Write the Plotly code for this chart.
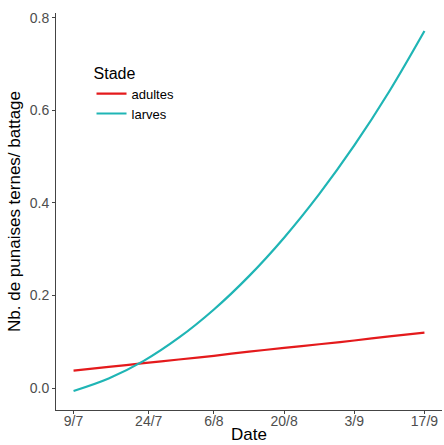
import plotly.graph_objects as go

dates = ["2021-07-09", "2021-07-16", "2021-07-23", "2021-07-30", "2021-08-06",
         "2021-08-13", "2021-08-20", "2021-08-27", "2021-09-03", "2021-09-10",
         "2021-09-17"]
adultes = [0.038, 0.046, 0.054, 0.062, 0.070, 0.079, 0.087, 0.095, 0.103, 0.112, 0.120]
larves = [-0.006, 0.021, 0.059, 0.109, 0.170, 0.242, 0.325, 0.419, 0.524, 0.641, 0.771]

tick_dates = ["2021-07-09", "2021-07-24", "2021-08-06", "2021-08-20", "2021-09-03", "2021-09-17"]
tick_labels = ["9/7", "24/7", "6/8", "20/8", "3/9", "17/9"]
y_ticks = [0.0, 0.2, 0.4, 0.6, 0.8]

fig = go.Figure()
fig.add_trace(go.Scatter(x=dates, y=adultes, mode="lines", name="adultes",
                         line=dict(color="#E41A1C", width=2.2, shape="spline")))
fig.add_trace(go.Scatter(x=dates, y=larves, mode="lines", name="larves",
                         line=dict(color="#1FB5B5", width=2.2, shape="spline")))

fig.update_layout(
    width=444, height=445,
    margin=dict(l=56, r=2, t=13, b=35),
    paper_bgcolor="white", plot_bgcolor="white",
    font=dict(family="Liberation Sans, Arial, sans-serif"),
    showlegend=True,
    legend=dict(
        title=dict(text="Stade", font=dict(size=16, color="black")),
        font=dict(size=13, color="black"),
        x=0.092, y=0.887, xanchor="left", yanchor="top",
        bgcolor="rgba(0,0,0,0)", itemwidth=30, tracegroupgap=0,
    ),
)
fig.update_xaxes(
    range=["2021-07-05 12:00", "2021-09-20 12:00"],
    tickvals=tick_dates, ticktext=tick_labels,
    showgrid=False, zeroline=False, automargin=False,
    showline=True, linecolor="#444444", linewidth=1,
    ticks="outside", ticklen=3, tickcolor="#444444",
    tickfont=dict(size=14, color="#4D4D4D"), ticklabelstandoff=-5,
    title=dict(text="Date", font=dict(size=17, color="black"), standoff=0),
)
fig.update_yaxes(
    range=[-0.047, 0.81],
    tickvals=y_ticks, tickformat=".1f",
    showgrid=False, zeroline=False, automargin=False,
    showline=True, linecolor="#444444", linewidth=1,
    ticks="outside", ticklen=3, tickcolor="#444444",
    tickfont=dict(size=14, color="#4D4D4D"),
    title=dict(text="Nb. de punaises ternes/ battage", font=dict(size=17, color="black"), standoff=4),
)

fig.write_html("out.html", config={"displayModeBar": False},
               post_script="document.body.style.margin='0';")
